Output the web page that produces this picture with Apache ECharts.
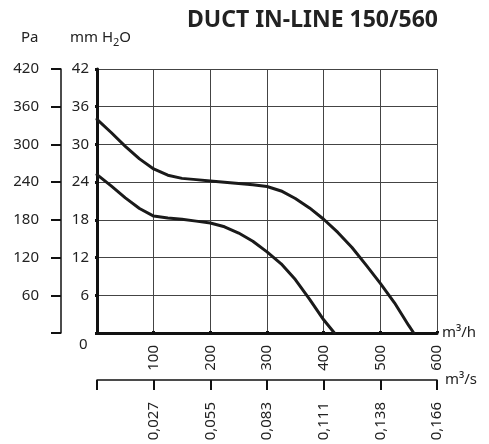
<!DOCTYPE html>
<html><head><meta charset="utf-8">
<script src="https://cdn.jsdelivr.net/npm/echarts@6/dist/echarts.min.js"></script>
<style>html,body{margin:0;padding:0;background:#fff}#c{width:489px;height:444px}</style>
</head><body><div id="c"></div>
<script>
const titleText = 'DUCT IN-LINE 150/560';
const flowM3hMax = 600;
const flowM3sLabels = ['', '0,027', '0,055', '0,083', '0,111', '0,138', '0,166'];
const mmH2OMax = 42;
const paMax = 420;
const upperFlow = [0, 25, 50, 75, 100, 125, 150, 175, 200, 225, 250, 275, 300, 325, 350, 375, 400, 425, 450, 475, 500, 525, 550, 559];
const upperPressure = [34.0, 31.9, 29.7, 27.7, 26.1, 25.1, 24.6, 24.4, 24.2, 24.0, 23.8, 23.6, 23.3, 22.6, 21.4, 19.9, 18.1, 16.0, 13.6, 10.8, 7.9, 4.8, 1.2, 0];
const lowerFlow = [0, 25, 50, 75, 100, 125, 150, 175, 200, 225, 250, 275, 300, 325, 350, 375, 400, 419];
const lowerPressure = [25.2, 23.4, 21.5, 19.8, 18.6, 18.3, 18.1, 17.8, 17.5, 16.9, 15.9, 14.6, 12.9, 11.0, 8.5, 5.4, 2.1, 0];

const FONT = 'Noto Sans';
const chart = echarts.init(document.getElementById('c'), null, {renderer: 'canvas'});
const lbl = {fontFamily: FONT, fontSize: 15, color: '#222'};
chart.setOption({
  animation: false,
  backgroundColor: '#fff',
  title: {text: titleText, right: 46, top: 4,
    textStyle: {fontFamily: FONT, fontSize: 23, fontWeight: 'bold', color: '#222'}},
  grid: {left: 97, right: 52, top: 69, bottom: 111, containLabel: false},
  xAxis: [{
    type: 'value', min: 0, max: flowM3hMax, interval: 100, position: 'bottom',
    name: 'm³/h', nameLocation: 'end', nameGap: 5,
    nameTextStyle: Object.assign({}, lbl, {verticalAlign: 'middle'}),
    axisLine: {show: true, onZero: false, lineStyle: {color: '#111', width: 3}},
    axisTick: {show: true, inside: true, length: 2, lineStyle: {color: '#111', width: 3}},
    splitLine: {show: true, lineStyle: {color: '#444', width: 1}},
    axisLabel: Object.assign({}, lbl, {rotate: 90, margin: 12,
      formatter: v => v === 0 ? '' : String(v)})
  }, {
    type: 'value', min: 0, max: flowM3hMax, interval: 100, position: 'bottom', offset: 47,
    name: 'm³/s', nameLocation: 'end', nameGap: 8,
    nameTextStyle: Object.assign({}, lbl, {verticalAlign: 'middle'}),
    axisLine: {show: true, onZero: false, lineStyle: {color: '#111', width: 1.5}},
    axisTick: {show: true, length: 10, lineStyle: {color: '#111', width: 2}},
    splitLine: {show: false},
    axisLabel: Object.assign({}, lbl, {rotate: 90, margin: 22,
      formatter: v => flowM3sLabels[Math.round(v / 100)] || ''})
  }],
  yAxis: [{
    type: 'value', min: 0, max: mmH2OMax, interval: 6, position: 'left',
    axisLine: {show: true, onZero: false, lineStyle: {color: '#111', width: 3}},
    axisTick: {show: true, inside: false, length: 2, lineStyle: {color: '#111', width: 3}},
    splitLine: {show: true, lineStyle: {color: '#444', width: 1}},
    axisLabel: Object.assign({}, lbl, {margin: 8, formatter: v => v === 0 ? '' : String(v)})
  }, {
    type: 'value', min: 0, max: paMax, interval: 60, position: 'left', offset: 36,
    axisLine: {show: true, onZero: false, lineStyle: {color: '#111', width: 1.5}},
    axisTick: {show: true, length: 10, lineStyle: {color: '#111', width: 2}},
    splitLine: {show: false},
    axisLabel: Object.assign({}, lbl, {margin: 22, formatter: v => v === 0 ? '' : String(v)})
  }],
  graphic: [
    {type: 'text', left: 21, top: 30, style: {text: 'Pa', font: '15px "Noto Sans"', fill: '#222'}},
    {type: 'text', left: 70, top: 30, style: {text: 'mm H{s|2}O', font: '15px "Noto Sans"', fill: '#222',
      rich: {s: {fontSize: 11, fontFamily: FONT, padding: [10, 0, 0, 0], fill: '#222'}}}},
    {type: 'text', left: 79, top: 337, style: {text: '0', font: '15px "Noto Sans"', fill: '#222'}}
  ],
  series: [{
    type: 'line', xAxisIndex: 0, yAxisIndex: 0, smooth: false, symbol: 'none',
    lineStyle: {color: '#1a1a1a', width: 3, join: 'round', cap: 'round'},
    data: upperFlow.map((f, i) => [f, upperPressure[i]])
  }, {
    type: 'line', xAxisIndex: 0, yAxisIndex: 0, smooth: false, symbol: 'none',
    lineStyle: {color: '#1a1a1a', width: 3, join: 'round', cap: 'round'},
    data: lowerFlow.map((f, i) => [f, lowerPressure[i]])
  }]
});
</script></body></html>
